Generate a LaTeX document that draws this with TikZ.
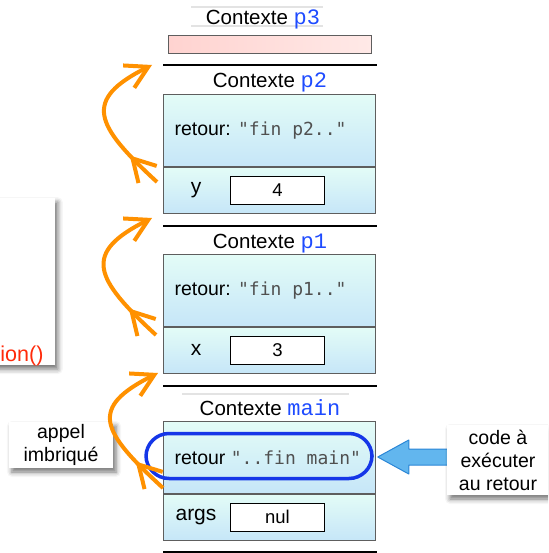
\documentclass[tikz,border=0pt]{standalone}
\usepackage{fontspec}
\setmainfont{Liberation Sans}
\newfontfamily\nomfont{Liberation Mono}
\newfontfamily\codefont{DejaVu Sans Mono}
\usetikzlibrary{arrows.meta, positioning, calc, shadows.blur, decorations.markings}

\definecolor{cielhaut}{HTML}{E3FCF7}
\definecolor{cielbas}{HTML}{C6E6F8}
\definecolor{bordgris}{HTML}{5E5E5E}
\definecolor{rosegauche}{HTML}{FFD3D0}
\definecolor{rosedroite}{HTML}{FFE9E7}
\definecolor{nomctxbleu}{HTML}{1E4BFF}
\definecolor{chainegris}{HTML}{505050}
\definecolor{bleuvif}{HTML}{1536E8}
\definecolor{orangevif}{HTML}{FF9100}
\definecolor{flechefond}{HTML}{62B6EE}
\definecolor{flechebord}{HTML}{2A86D6}
\definecolor{rougefn}{HTML}{FF2A0A}

\newcommand{\nomctx}[1]{{\nomfont\fontsize{22}{24}\selectfont\color{nomctxbleu}#1}}
\newcommand{\chaine}[1]{{\codefont\fontsize{18}{22}\selectfont\color{chainegris}#1}}

\begin{document}
\begin{tikzpicture}[x=1pt, y=-1pt, font=\fontsize{19.5}{23}\selectfont,
    titre/.style={anchor=base, font=\fontsize{20.5}{23}\selectfont},
    zone/.style={draw=bordgris, line width=0.9pt, top color=cielhaut, bottom color=cielbas,
        minimum width=212pt, minimum height=72pt, inner sep=0pt, anchor=north west},
    barre/.style={draw=bordgris, line width=0.9pt, left color=rosegauche, right color=rosedroite,
        minimum width=203pt, minimum height=18pt, inner sep=0pt, anchor=north west},
    valeur/.style={draw=black, line width=1pt, fill=white, minimum width=94pt, minimum height=28pt,
        inner sep=0pt, anchor=west, font=\fontsize{18.5}{20}\selectfont},
    varnom/.style={font=\fontsize{21}{23}\selectfont},
    separ/.style={line width=2.5pt},
    filet/.style={draw=gray!22, line width=1.5pt},
    cadrebleu/.style={draw=bleuvif, line width=3.5pt, rounded corners=23pt,
        minimum width=226pt, minimum height=45pt},
    retourne/.style={draw=orangevif, line width=4pt, -{Straight Barb[length=22pt, width=25pt]},
        postaction={decorate}, decoration={markings,
        mark=at position 38pt with {\arrow{Straight Barb[length=22pt, width=25pt]}}}},
    flechebleue/.style={draw=flechebord, fill=flechefond, line width=1pt, line join=round},
    note/.style={fill=white, align=center, inner sep=2pt,
        blur shadow={shadow xshift=3pt, shadow yshift=-4pt, shadow blur radius=5pt, shadow opacity=55}}
]
    \path[use as bounding box, clip] (0,0) rectangle (548,553);

    \draw[filet] (191,7) -- (323,7) (191,26) -- (323,26);
    \node[titre] (t3) at (263,25) {Contexte \nomctx{p3}};
    \node[barre] (b3) at (168,35) {};
    \draw[separ] (163,65) -- (377,65);

    \node[titre] (t2) at (270,88) {Contexte \nomctx{p2}};
    \node[zone] (p2h) at (163,94) {};
    \node[zone, minimum height=46pt, below=0pt of p2h] (p2b) {};
    \node[anchor=west] (r2) at ($(p2h.west)+(8,0)$) {retour: \chaine{"fin p2.."}};
    \node[varnom] (y) at ($(p2b.west)+(33,0)$) {y};
    \node[valeur] (v2) at ($(p2b.west)+(67,0)$) {4};
    \draw[separ] (163,226) -- (377,226);

    \node[titre] (t1) at (270,248) {Contexte \nomctx{p1}};
    \node[zone] (p1h) at (163,254) {};
    \node[zone, minimum height=46pt, below=0pt of p1h] (p1b) {};
    \node[anchor=west] (r1) at ($(p1h.west)+(8,0)$) {retour: \chaine{"fin p1.."}};
    \node[varnom] (x) at ($(p1b.west)+(33,0)$) {x};
    \node[valeur] (v1) at ($(p1b.west)+(67,0)$) {3};
    \draw[separ] (163,386) -- (377,386);

    \draw[filet] (182,394) -- (349,394);
    \node[titre] (tm) at (270,415) {Contexte \nomctx{main}};
    \node[zone] (pmh) at (163,421) {};
    \node[zone, minimum height=46pt, below=0pt of pmh] (pmb) {};
    \node[anchor=west] (rm) at ($(pmh.west)+(8,0)$) {retour \chaine{"..fin main"}};
    \node[varnom] (args) at ($(pmb.west)+(33,0)$) {args};
    \node[valeur] (vm) at ($(pmb.west)+(67,0)$) {nul};
    \draw[separ] (163,552) -- (377,552);

    \node[cadrebleu] (cadre) at (259,456) {};

    \node[note, anchor=north east, minimum width=130pt, minimum height=167pt] (fn) at (55,198) {};
    \node[anchor=base east, text=rougefn, font=\fontsize{21.5}{24}\selectfont] (fnt) at (47,361) {ion()};
    \node[note, minimum width=104pt, minimum height=46pt] (appel) at (61,445) {appel\\imbriqué};

    \draw[flechebleue] (cadre.east) ++(4,1) -- ++(31,-17) -- ++(0,9) -- ++(50,0)
        -- ++(0,16) -- ++(-50,0) -- ++(0,9) -- cycle;
    \node[note, minimum width=102pt, minimum height=70pt] (code) at (498,460) {code à\\exécuter\\au retour};

    \coordinate (depA) at (157,182);
    \coordinate (arrA) at (152,65);
    \coordinate (depB) at (156,335);
    \coordinate (arrB) at (152,218);
    \coordinate (depC) at (163,488);
    \coordinate (arrC) at (158,373);
    \draw[retourne] (depA) .. controls +(-62,-57) and +(-70,35) .. (arrA);
    \draw[retourne] (depB) .. controls +(-62,-57) and +(-70,35) .. (arrB);
    \draw[retourne] (depC) .. controls +(-62,-57) and +(-70,35) .. (arrC);
\end{tikzpicture}
\end{document}
